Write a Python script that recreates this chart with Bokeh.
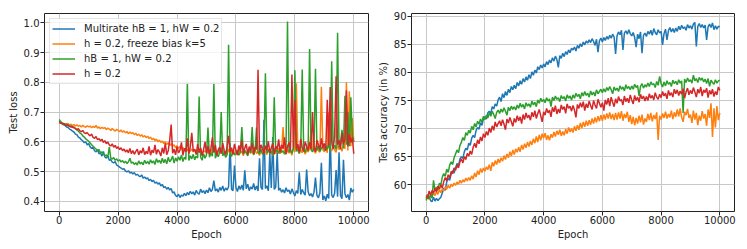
from bokeh.plotting import figure
from bokeh.layouts import row
from bokeh.models import Range1d, FixedTicker, NumeralTickFormatter
from bokeh.embed import file_html
from bokeh.resources import INLINE

# ---------------- data ----------------
EPOCHS = list(range(0, 10001, 50))
X_TICKS = [0, 2000, 4000, 6000, 8000, 10000]
LOSS_TICKS = [0.4, 0.5, 0.6, 0.7, 0.8, 0.9, 1.0]
ACC_TICKS = [60, 65, 70, 75, 80, 85, 90]
LABELS = ["Multirate hB = 1, hW = 0.2", "h = 0.2, freeze bias k=5", "hB = 1, hW = 0.2", "h = 0.2"]
COLORS = ["#1f77b4", "#ff7f0e", "#2ca02c", "#d62728"]

loss_multirate = [
    0.670, 0.664, 0.662, 0.657, 0.655, 0.650, 0.648, 0.643, 0.640, 0.636,
    0.633, 0.626, 0.624, 0.616, 0.613, 0.607, 0.603, 0.597, 0.600, 0.590,
    0.594, 0.583, 0.578, 0.581, 0.570, 0.566, 0.574, 0.560, 0.563, 0.552,
    0.568, 0.549, 0.545, 0.553, 0.538, 0.540, 0.532, 0.529, 0.534, 0.522,
    0.519, 0.515, 0.512, 0.508, 0.510, 0.502, 0.499, 0.503, 0.495, 0.498,
    0.492, 0.497, 0.488, 0.491, 0.486, 0.483, 0.489, 0.478, 0.482, 0.476,
    0.479, 0.470, 0.474, 0.466, 0.471, 0.461, 0.465, 0.458, 0.462, 0.452,
    0.457, 0.446, 0.450, 0.441, 0.447, 0.438, 0.443, 0.428, 0.432, 0.420,
    0.416, 0.424, 0.413, 0.421, 0.418, 0.427, 0.419, 0.430, 0.422, 0.434,
    0.425, 0.432, 0.421, 0.437, 0.428, 0.424, 0.441, 0.430, 0.436, 0.426,
    0.438, 0.429, 0.446, 0.433, 0.440, 0.470, 0.435, 0.442, 0.431, 0.447,
    0.437, 0.452, 0.434, 0.445, 0.438, 0.449, 0.595, 0.441, 0.436, 0.520,
    0.447, 0.433, 0.452, 0.440, 0.455, 0.437, 0.504, 0.442, 0.458, 0.436,
    0.449, 0.441, 0.460, 0.438, 0.452, 0.435, 0.545, 0.447, 0.440, 0.674,
    0.443, 0.452, 0.436, 0.562, 0.445, 0.616, 0.440, 0.448, 0.565, 0.437,
    0.444, 0.431, 0.439, 0.428, 0.446, 0.433, 0.438, 0.425, 0.442, 0.430,
    0.418, 0.436, 0.427, 0.498, 0.423, 0.440, 0.429, 0.421, 0.507, 0.432,
    0.419, 0.426, 0.415, 0.431, 0.480, 0.420, 0.412, 0.428, 0.530, 0.405,
    0.418, 0.402, 0.424, 0.410, 0.632, 0.421, 0.413, 0.427, 0.505, 0.416,
    0.565, 0.420, 0.409, 0.540, 0.426, 0.412, 0.423, 0.404, 0.445, 0.431,
    0.440,
]

loss_freeze = [
    0.665, 0.662, 0.664, 0.660, 0.661, 0.658, 0.662, 0.656, 0.659, 0.655,
    0.658, 0.653, 0.657, 0.652, 0.655, 0.650, 0.656, 0.651, 0.649, 0.654,
    0.650, 0.653, 0.647, 0.652, 0.648, 0.655, 0.646, 0.650, 0.644, 0.649,
    0.645, 0.648, 0.641, 0.646, 0.643, 0.638, 0.645, 0.640, 0.636, 0.642,
    0.638, 0.634, 0.640, 0.632, 0.637, 0.630, 0.635, 0.627, 0.633, 0.628,
    0.631, 0.624, 0.629, 0.621, 0.626, 0.619, 0.624, 0.616, 0.621, 0.614,
    0.619, 0.611, 0.616, 0.607, 0.612, 0.604, 0.609, 0.600, 0.606, 0.598,
    0.603, 0.594, 0.600, 0.591, 0.597, 0.588, 0.594, 0.585, 0.590, 0.580,
    0.587, 0.578, 0.584, 0.575, 0.581, 0.572, 0.579, 0.570, 0.577, 0.568,
    0.576, 0.566, 0.574, 0.563, 0.572, 0.565, 0.577, 0.561, 0.570, 0.566,
    0.573, 0.562, 0.569, 0.558, 0.575, 0.564, 0.571, 0.557, 0.568, 0.580,
    0.563, 0.572, 0.555, 0.569, 0.561, 0.576, 0.558, 0.567, 0.573, 0.560,
    0.570, 0.556, 0.574, 0.562, 0.568, 0.553, 0.571, 0.565, 0.559, 0.577,
    0.562, 0.570, 0.556, 0.574, 0.561, 0.567, 0.554, 0.572, 0.580, 0.563,
    0.569, 0.557, 0.575, 0.562, 0.568, 0.555, 0.573, 0.561, 0.567, 0.578,
    0.560, 0.572, 0.650, 0.565, 0.558, 0.574, 0.562, 0.569, 0.555, 0.583,
    0.566, 0.797, 0.571, 0.560, 0.575, 0.563, 0.580, 0.558, 0.572, 0.566,
    0.578, 0.640, 0.568, 0.575, 0.561, 0.584, 0.570, 0.565, 0.785, 0.573,
    0.567, 0.581, 0.563, 0.700, 0.576, 0.569, 0.586, 0.572, 0.565, 0.590,
    0.574, 0.582, 0.568, 0.593, 0.577, 0.800, 0.571, 0.770, 0.585, 0.680,
    0.600,
]

loss_hb1 = [
    0.675, 0.668, 0.664, 0.661, 0.658, 0.660, 0.655, 0.652, 0.654, 0.648,
    0.650, 0.644, 0.640, 0.636, 0.630, 0.627, 0.620, 0.616, 0.610, 0.606,
    0.602, 0.596, 0.590, 0.585, 0.580, 0.576, 0.570, 0.574, 0.563, 0.566,
    0.558, 0.553, 0.556, 0.548, 0.583, 0.545, 0.542, 0.547, 0.538, 0.543,
    0.535, 0.540, 0.532, 0.537, 0.529, 0.535, 0.527, 0.533, 0.545, 0.528,
    0.532, 0.524, 0.530, 0.522, 0.536, 0.526, 0.531, 0.523, 0.538, 0.527,
    0.534, 0.525, 0.540, 0.529, 0.536, 0.524, 0.543, 0.531, 0.538, 0.527,
    0.545, 0.530, 0.541, 0.526, 0.548, 0.533, 0.540, 0.552, 0.529, 0.546,
    0.535, 0.550, 0.538, 0.556, 0.534, 0.548, 0.541, 0.800, 0.537, 0.553,
    0.543, 0.558, 0.540, 0.552, 0.546, 0.752, 0.549, 0.538, 0.560, 0.545,
    0.556, 0.648, 0.548, 0.561, 0.552, 0.800, 0.545, 0.558, 0.550, 0.566,
    0.700, 0.553, 0.563, 0.548, 0.557, 0.926, 0.562, 0.551, 0.568, 0.556,
    0.560, 0.572, 0.555, 0.566, 0.650, 0.558, 0.570, 0.562, 0.553, 0.575,
    0.562, 0.650, 0.557, 0.571, 0.648, 0.565, 0.560, 0.574, 0.558, 0.568,
    0.830, 0.563, 0.575, 0.560, 0.569, 0.557, 0.750, 0.566, 0.572, 0.561,
    0.577, 0.564, 0.570, 0.558, 0.574, 1.004, 0.566, 0.573, 0.561, 0.579,
    0.840, 0.568, 0.575, 0.562, 0.580, 0.843, 0.571, 0.565, 0.583, 0.569,
    0.912, 0.574, 0.566, 0.580, 0.845, 0.571, 0.585, 0.568, 0.577, 0.590,
    0.572, 0.586, 0.575, 0.592, 0.568, 0.871, 0.580, 0.588, 0.574, 0.966,
    0.582, 0.595, 0.640, 0.578, 0.755, 0.590, 0.700, 0.585, 0.750, 0.620,
    0.600,
]

loss_h02 = [
    0.665, 0.663, 0.660, 0.661, 0.657, 0.655, 0.656, 0.652, 0.650, 0.651,
    0.647, 0.645, 0.641, 0.644, 0.637, 0.634, 0.638, 0.630, 0.628, 0.631,
    0.624, 0.620, 0.626, 0.615, 0.612, 0.618, 0.607, 0.611, 0.603, 0.609,
    0.598, 0.604, 0.594, 0.599, 0.590, 0.586, 0.593, 0.582, 0.588, 0.578,
    0.583, 0.574, 0.580, 0.570, 0.576, 0.566, 0.573, 0.563, 0.578, 0.560,
    0.571, 0.558, 0.568, 0.575, 0.556, 0.570, 0.562, 0.580, 0.557, 0.568,
    0.560, 0.585, 0.555, 0.572, 0.563, 0.590, 0.558, 0.574, 0.566, 0.552,
    0.580, 0.561, 0.595, 0.557, 0.570, 0.605, 0.658, 0.562, 0.575, 0.556,
    0.584, 0.563, 0.572, 0.598, 0.555, 0.578, 0.566, 0.612, 0.560, 0.583,
    0.630, 0.568, 0.575, 0.557, 0.592, 0.564, 0.580, 0.553, 0.573, 0.600,
    0.562, 0.586, 0.558, 0.577, 0.615, 0.565, 0.590, 0.555, 0.574, 0.582,
    0.560, 0.596, 0.571, 0.557, 0.585, 0.620, 0.566, 0.580, 0.558, 0.593,
    0.572, 0.556, 0.588, 0.568, 0.605, 0.561, 0.579, 0.593, 0.558, 0.584,
    0.570, 0.597, 0.560, 0.583, 0.574, 0.842, 0.566, 0.590, 0.578, 0.560,
    0.587, 0.571, 0.602, 0.563, 0.580, 0.595, 0.558, 0.586, 0.574, 0.608,
    0.565, 0.590, 0.577, 0.615, 0.560, 0.584, 0.598, 0.570, 0.826, 0.582,
    0.740, 0.575, 0.592, 0.565, 0.610, 0.580, 0.568, 0.600, 0.585, 0.572,
    0.598, 0.575, 0.700, 0.582, 0.566, 0.605, 0.590, 0.574, 0.612, 0.580,
    0.595, 0.570, 0.741, 0.588, 0.784, 0.600, 0.576, 0.620, 0.820, 0.590,
    0.605, 0.575, 0.630, 0.592, 0.610, 0.772, 0.585, 0.625, 0.598, 0.615,
    0.560,
]

acc_multirate = [
    57.5, 58.3, 57.9, 57.2, 57.0, 57.8, 57.1, 57.6, 57.2, 57.5,
    57.8, 58.6, 59.4, 59.0, 60.5, 61.2, 60.8, 61.9, 62.5, 62.1,
    63.0, 63.8, 63.4, 64.6, 65.0, 64.7, 65.9, 66.5, 66.2, 67.4,
    67.0, 68.3, 68.8, 68.4, 69.7, 70.2, 69.9, 71.0, 70.6, 71.8,
    72.1, 71.7, 72.8, 73.1, 72.6, 73.9, 73.5, 74.4, 74.0, 75.1,
    75.6, 74.8, 76.2, 75.5, 76.6, 75.9, 77.0, 76.4, 77.5, 76.9,
    77.7, 77.1, 78.2, 77.6, 78.5, 77.9, 78.9, 78.3, 79.2, 78.6,
    79.6, 78.9, 80.1, 79.5, 80.4, 79.9, 81.0, 80.5, 81.3, 80.8,
    81.5, 81.0, 81.9, 81.4, 82.2, 81.7, 82.6, 82.0, 82.9, 82.3,
    80.9, 83.0, 82.5, 83.4, 82.8, 83.7, 83.2, 84.0, 83.5, 84.3,
    84.0, 84.5, 83.8, 84.8, 84.3, 85.1, 84.6, 85.4, 84.9, 85.6,
    85.2, 85.8, 85.3, 86.0, 85.5, 84.8, 85.9, 83.6, 85.6, 86.1,
    85.4, 86.2, 85.7, 86.4, 85.9, 86.6, 86.1, 86.8, 86.3, 83.3,
    86.5, 87.2, 86.7, 87.5, 84.0, 87.0, 87.4, 86.8, 87.6, 86.9,
    86.5, 87.1, 86.2, 84.5, 86.8, 86.0, 87.2, 83.4, 86.6, 87.0,
    86.4, 87.3, 86.8, 87.5, 86.6, 87.8, 87.1, 86.7, 87.6, 87.0,
    87.3, 84.9, 86.9, 87.7, 85.8, 87.4, 88.0, 87.2, 87.8, 87.1,
    87.9, 87.3, 88.2, 87.6, 88.4, 87.8, 88.1, 87.5, 88.5, 87.9,
    88.3, 87.7, 88.6, 88.9, 84.6, 88.2, 88.7, 88.0, 88.5, 87.9,
    88.4, 85.8, 88.1, 88.6, 88.0, 88.8, 87.6, 88.3, 87.7, 88.2,
    88.1,
]

acc_freeze = [
    57.6, 58.2, 57.4, 58.0, 57.8, 58.5, 58.1, 58.8, 58.3, 59.1,
    58.6, 59.3, 58.9, 59.6, 59.2, 59.9, 59.4, 60.1, 59.7, 60.3,
    59.9, 60.5, 60.1, 60.8, 60.3, 60.9, 60.5, 61.2, 60.7, 61.3,
    60.8, 61.6, 61.0, 62.1, 61.4, 62.5, 61.8, 62.9, 62.2, 63.0,
    62.4, 63.2, 62.7, 63.6, 62.5, 64.0, 63.3, 64.3, 63.6, 64.6,
    63.9, 64.8, 64.2, 65.2, 64.5, 65.5, 64.8, 65.9, 65.1, 66.2,
    65.4, 66.4, 65.8, 66.7, 65.9, 67.1, 66.3, 67.3, 66.6, 67.6,
    66.8, 67.8, 67.1, 68.2, 67.4, 68.6, 67.6, 68.9, 67.9, 69.1,
    68.3, 69.2, 68.0, 68.8, 67.9, 69.0, 68.4, 69.4, 68.6, 69.6,
    68.9, 69.8, 68.7, 69.5, 68.8, 69.9, 69.1, 70.2, 69.4, 70.0,
    69.3, 70.4, 69.6, 70.6, 69.8, 71.0, 70.1, 71.2, 70.3, 71.4,
    70.5, 71.5, 70.7, 71.8, 70.9, 72.0, 71.1, 72.2, 71.3, 72.4,
    71.4, 72.5, 71.6, 72.7, 71.8, 72.9, 71.7, 72.6, 71.5, 72.8,
    71.6, 72.9, 71.8, 73.1, 71.4, 72.6, 71.9, 73.0, 71.2, 72.4,
    70.8, 72.1, 70.6, 71.9, 70.9, 72.3, 71.1, 72.5, 70.7, 71.8,
    71.2, 72.6, 71.5, 72.8, 71.3, 72.4, 71.7, 72.9, 68.0, 72.3,
    71.6, 72.7, 71.9, 73.0, 71.8, 72.6, 72.0, 73.2, 71.7, 72.9,
    72.1, 73.4, 72.2, 73.6, 72.0, 71.2, 73.0, 72.4, 73.5, 71.9,
    72.5, 71.0, 73.2, 71.6, 72.8, 70.6, 72.3, 71.4, 73.1, 71.8,
    72.6, 70.5, 73.4, 71.9, 74.5, 68.5, 73.6, 70.2, 74.0, 71.5,
    72.8,
]

acc_hb1 = [
    57.2, 58.0, 57.5, 58.3, 57.6, 60.8, 58.9, 59.6, 59.0, 60.3,
    60.0, 61.4, 62.0, 61.5, 62.8, 62.2, 63.5, 64.1, 63.6, 64.8,
    65.5, 66.2, 65.7, 67.0, 67.6, 68.4, 67.9, 69.3, 68.8, 69.7,
    69.2, 70.4, 69.8, 70.9, 70.3, 71.3, 70.8, 71.7, 71.1, 72.2,
    71.6, 72.4, 71.9, 72.8, 72.2, 73.1, 72.5, 71.8, 72.9, 73.3,
    72.7, 73.5, 72.9, 73.7, 73.1, 72.4, 73.8, 73.2, 74.0, 73.4,
    73.9, 73.3, 74.2, 73.6, 74.5, 73.8, 74.3, 73.5, 74.6, 74.0,
    74.4, 73.8, 74.9, 74.2, 74.7, 73.9, 75.1, 74.5, 75.4, 74.8,
    75.2, 74.6, 75.5, 74.9, 75.3, 73.9, 75.6, 75.0, 75.8, 75.2,
    75.5, 74.8, 75.9, 75.3, 75.7, 74.9, 76.0, 75.4, 75.8, 75.1,
    76.0, 75.4, 76.3, 75.7, 76.1, 75.3, 76.4, 75.8, 76.6, 75.9,
    76.3, 75.6, 76.7, 76.0, 76.5, 75.8, 76.9, 76.2, 76.6, 77.0,
    76.4, 77.1, 76.5, 77.3, 76.8, 77.5, 76.9, 76.2, 77.4, 76.8,
    77.2, 76.6, 77.6, 77.0, 77.4, 76.7, 77.8, 77.1, 77.5, 76.9,
    77.6, 77.0, 77.9, 77.3, 77.7, 75.8, 77.5, 78.0, 77.2, 77.8,
    77.4, 78.1, 77.5, 78.3, 77.8, 78.0, 77.3, 78.4, 77.7, 79.3,
    78.0, 77.4, 78.3, 77.6, 78.5, 77.9, 78.2, 77.5, 78.6, 78.0,
    78.4, 77.8, 78.7, 78.1, 78.5, 72.8, 78.8, 78.2, 79.0, 78.4,
    78.7, 78.1, 79.5, 78.5, 78.9, 78.2, 79.1, 78.6, 79.0, 78.3,
    78.8, 78.0, 78.9, 77.5, 78.6, 78.2, 77.9, 78.7, 78.1, 78.5,
    78.6,
]

acc_h02 = [
    58.1, 57.6, 58.9, 58.2, 59.0, 58.5, 59.4, 58.7, 59.8, 59.2,
    60.0, 59.4, 60.6, 61.3, 60.7, 61.8, 61.2, 62.4, 62.0, 63.0,
    62.6, 63.5, 63.0, 64.1, 64.6, 63.9, 65.0, 64.5, 65.6, 65.1,
    66.0, 65.4, 66.7, 67.4, 66.6, 68.0, 67.3, 68.5, 67.8, 69.1,
    68.4, 69.5, 68.8, 70.1, 69.3, 70.5, 69.7, 71.2, 70.3, 70.9,
    71.4, 70.5, 71.6, 70.8, 69.8, 71.7, 71.0, 72.0, 71.2, 70.4,
    71.8, 71.1, 72.3, 71.4, 72.1, 70.9, 72.5, 71.6, 72.8, 71.9,
    72.4, 71.5, 72.9, 72.1, 73.2, 71.8, 72.7, 73.4, 72.3, 71.2,
    73.0, 72.4, 73.6, 72.8, 73.3, 72.1, 73.8, 73.0, 74.1, 72.6,
    73.5, 72.8, 74.2, 73.4, 73.9, 72.7, 74.4, 73.6, 74.0, 73.1,
    74.1, 73.3, 72.0, 74.3, 73.6, 74.6, 73.8, 74.8, 73.2, 74.4,
    73.7, 74.9, 74.1, 73.4, 75.0, 74.2, 73.6, 75.2, 74.5, 73.8,
    74.6, 73.2, 75.1, 74.3, 75.4, 74.0, 75.6, 74.7, 73.9, 75.3,
    74.5, 75.7, 74.9, 75.2, 74.2, 75.8, 74.8, 75.4, 74.6, 76.0,
    75.1, 74.4, 75.9, 75.0, 75.6, 74.7, 76.1, 75.3, 75.8, 74.9,
    75.7, 75.0, 76.2, 75.4, 75.9, 75.1, 76.4, 75.6, 75.2, 76.1,
    75.5, 76.6, 75.8, 76.3, 75.3, 76.8, 75.9, 76.4, 75.6, 77.0,
    76.2, 76.9, 75.9, 76.7, 76.1, 77.1, 75.4, 76.5, 77.2, 76.0,
    76.8, 76.2, 77.3, 76.5, 75.6, 77.0, 76.3, 77.4, 75.8, 76.9,
    76.4, 77.2, 75.5, 76.8, 76.1, 77.0, 75.7, 76.6, 76.0, 77.4,
    76.8,
]

LOSS_SERIES = [loss_multirate, loss_freeze, loss_hb1, loss_h02]
ACC_SERIES = [acc_multirate, acc_freeze, acc_hb1, acc_h02]
for s in LOSS_SERIES + ACC_SERIES:
    assert len(s) == len(EPOCHS), len(s)

FONT = "DejaVu Sans"


def style(p, ylabel, yticks, yfmt=None):
    p.outline_line_color = "#222222"
    p.outline_line_width = 1
    p.background_fill_color = "white"
    p.border_fill_color = "white"
    for ax in (p.xaxis[0], p.yaxis[0]):
        ax.axis_line_color = None
        ax.major_tick_line_color = "#222222"
        ax.major_tick_in = 0
        ax.major_tick_out = 4
        ax.minor_tick_line_color = None
        ax.major_label_text_font = FONT
        ax.major_label_text_font_size = "10px"
        ax.major_label_text_color = "#222222"
        ax.axis_label_text_font = FONT
        ax.axis_label_text_font_size = "10px"
        ax.axis_label_text_font_style = "normal"
        ax.axis_label_text_color = "#222222"
    p.xaxis[0].ticker = FixedTicker(ticks=X_TICKS)
    p.yaxis[0].ticker = FixedTicker(ticks=yticks)
    if yfmt is not None:
        p.yaxis[0].formatter = yfmt
    p.xaxis[0].axis_label = "Epoch"
    p.yaxis[0].axis_label = ylabel
    p.xaxis[0].major_label_standoff = 0
    p.xaxis[0].axis_label_standoff = 2
    p.yaxis[0].major_label_standoff = 1
    p.yaxis[0].axis_label_standoff = 2
    for g in (p.xgrid[0], p.ygrid[0]):
        g.grid_line_color = "#c8c8c8"
        g.grid_line_width = 1


p1 = figure(width=374, height=249, output_backend="svg", toolbar_location=None,
            x_range=Range1d(-500, 10500), y_range=Range1d(0.366, 1.031),
            min_border_left=44, min_border_right=6, min_border_top=13, min_border_bottom=38)
style(p1, "Test loss", LOSS_TICKS, NumeralTickFormatter(format="0.0"))
for ys, c, lab in zip(LOSS_SERIES, COLORS, LABELS):
    p1.line(EPOCHS, ys, line_color=c, line_width=1.5, legend_label=lab)

lg = p1.legend[0]
lg.location = "top_left"
lg.margin = 5
lg.padding = 2
lg.spacing = 0
lg.label_height = 15
lg.glyph_height = 15
lg.glyph_width = 23
lg.label_standoff = 9
lg.label_text_font = FONT
lg.label_text_font_size = "10px"
lg.label_text_color = "#222222"
lg.border_line_color = "#cccccc"
lg.border_line_width = 1
lg.background_fill_alpha = 0.8

p2 = figure(width=373, height=249, output_backend="svg", toolbar_location=None,
            x_range=Range1d(-500, 10500), y_range=Range1d(55.25, 90.48),
            min_border_left=36, min_border_right=13, min_border_top=13, min_border_bottom=38)
style(p2, "Test accuracy (in %)", ACC_TICKS)
for ys, c in zip(ACC_SERIES, COLORS):
    p2.line(EPOCHS, ys, line_color=c, line_width=1.5)

layout = row(p1, p2)
open("out.html", "w").write(file_html(layout, INLINE))
